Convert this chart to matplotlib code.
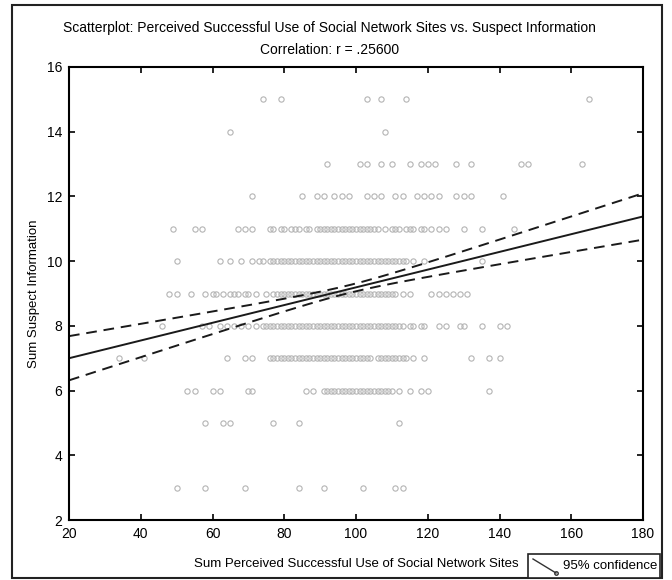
import matplotlib.pyplot as plt
import numpy as np
from matplotlib.patches import Rectangle
from matplotlib.lines import Line2D

plt.rcParams['font.family'] = ['Liberation Sans', 'DejaVu Sans']

# scatter rows: suspect information score -> perceived use scores
row_y = [15, 14, 13, 12, 11, 10, 9, 8, 7, 6, 5, 3]
row_x = [
    [74, 79, 103, 107, 114, 165],
    [65, 108],
    [92, 101, 103, 107, 110, 115, 118, 120, 122, 128, 132, 146, 148, 163],
    [71, 85, 89, 91, 94, 96, 98, 103, 105, 107, 111, 113, 117, 119, 121,
     123, 128, 130, 132, 141],
    [49, 55, 57, 67, 69, 71, 76, 77, 79, 80, 82, 83, 84, 86, 87, 89, 90,
     91, 92, 93, 94, 95, 96, 97, 98, 99, 100, 101, 102, 103, 104, 105, 106,
     108, 110, 111, 112, 114, 115, 116, 118, 119, 121, 123, 125, 130, 135, 144],
    [50, 62, 65, 68, 71, 73, 74, 76, 77, 78, 79, 80, 81, 82, 83, 84, 85, 86,
     87, 88, 89, 90, 91, 92, 93, 94, 95, 96, 97, 98, 99, 100, 101, 102, 103,
     104, 105, 106, 107, 108, 109, 110, 111, 112, 113, 114, 116, 119, 135],
    [48, 50, 54, 58, 60, 61, 63, 65, 66, 67, 69, 70, 72, 75, 77, 78, 79, 80,
     81, 82, 83, 84, 85, 86, 87, 88, 89, 90, 91, 92, 93, 94, 95, 96, 97, 98,
     99, 100, 101, 102, 103, 104, 105, 106, 107, 108, 109, 110, 111, 113,
     115, 121, 123, 125, 127, 129, 131],
    [46, 57, 59, 62, 64, 66, 68, 70, 72, 74, 75, 76, 77, 78, 79, 80, 81, 82,
     83, 84, 85, 86, 87, 88, 89, 90, 91, 92, 93, 94, 95, 96, 97, 98, 99, 100,
     101, 102, 103, 104, 105, 106, 107, 108, 109, 110, 111, 112, 113, 115,
     116, 118, 119, 123, 125, 129, 130, 135, 140, 142],
    [34, 41, 64, 69, 71, 76, 77, 78, 79, 80, 81, 82, 83, 84, 85, 86, 87, 88,
     89, 90, 91, 92, 93, 94, 95, 96, 97, 98, 99, 100, 101, 102, 103, 104,
     106, 107, 108, 109, 110, 111, 112, 113, 114, 116, 119, 132, 137, 140],
    [53, 55, 60, 62, 70, 71, 86, 88, 91, 92, 93, 94, 95, 96, 97, 98, 99, 100,
     101, 102, 103, 104, 105, 106, 107, 108, 109, 110, 112, 115, 118, 120, 137],
    [58, 63, 65, 77, 84, 112],
    [50, 58, 69, 84, 91, 102, 111, 113],
]

# fitted line and 95% band
fit_intercept = 6.452
fit_slope = 0.02738
band_center_x = 98
band_half_min = 0.12
band_half_edge = 0.70
band_edge_dx = 80

fig = plt.figure(figsize=(6.72, 5.80), dpi=100)
ax = fig.add_axes([69 / 672, 1 - 520 / 580, 574 / 672, 453 / 580])

for y, xs in zip(row_y, row_x):
    ax.plot(xs, [y] * len(xs), 'o', ms=3.8, mfc='none', mec='#b4b4b4', mew=0.8)

xx = np.linspace(20, 180, 200)
fit = fit_intercept + fit_slope * xx
k = np.sqrt(band_half_edge ** 2 - band_half_min ** 2) / band_edge_dx
half = np.sqrt(band_half_min ** 2 + (k * (xx - band_center_x)) ** 2)
ax.plot(xx, fit, color='#1a1a1a', lw=1.4)
ax.plot(xx, fit + half, color='#1a1a1a', lw=1.4, ls=(0, (5.5, 3.5)))
ax.plot(xx, fit - half, color='#1a1a1a', lw=1.4, ls=(0, (5.5, 3.5)))

ax.set_xlim(20, 180)
ax.set_ylim(2, 16)
ax.set_xticks(np.arange(20, 181, 20))
ax.set_yticks(np.arange(2, 17, 2))
ax.tick_params(direction='in', length=4, width=1.2, labelsize=10,
               top=True, right=True, pad=5)
for s in ax.spines.values():
    s.set_linewidth(1.5)

ax.set_xlabel("Sum Perceived Successful Use of Social Network Sites", fontsize=9.5, labelpad=12)
ax.set_ylabel("Sum Suspect Information", fontsize=9.5, labelpad=5)

fig.text(0.49, 1 - 28 / 580, "Scatterplot: Perceived Successful Use of Social Network Sites vs. Suspect Information",
         ha='center', va='center', fontsize=10)
fig.text(0.49, 1 - 50 / 580, "Correlation: r = .25600", ha='center', va='center', fontsize=10)

# outer frame
fig.add_artist(Rectangle((12 / 672, 2 / 580), 650 / 672, 573 / 580, transform=fig.transFigure,
                         fill=False, lw=1.5, ec='#222222'))

# legend box
fig.add_artist(Rectangle((528 / 672, 2 / 580), 132 / 672, 24 / 580, transform=fig.transFigure,
                         fill=True, fc='white', lw=1.2, ec='#222222'))
fig.add_artist(Line2D([533 / 672, 556 / 672], [1 - 559 / 580, 1 - 573 / 580], transform=fig.transFigure,
                      color='#333333', lw=1.0, marker='o', markevery=[1], ms=2.5, mfc='none'))
fig.text(563 / 672, 1 - 566 / 580, "95% confidence", ha='left', va='center', fontsize=9.5)

fig.savefig("out.png", dpi=100)
